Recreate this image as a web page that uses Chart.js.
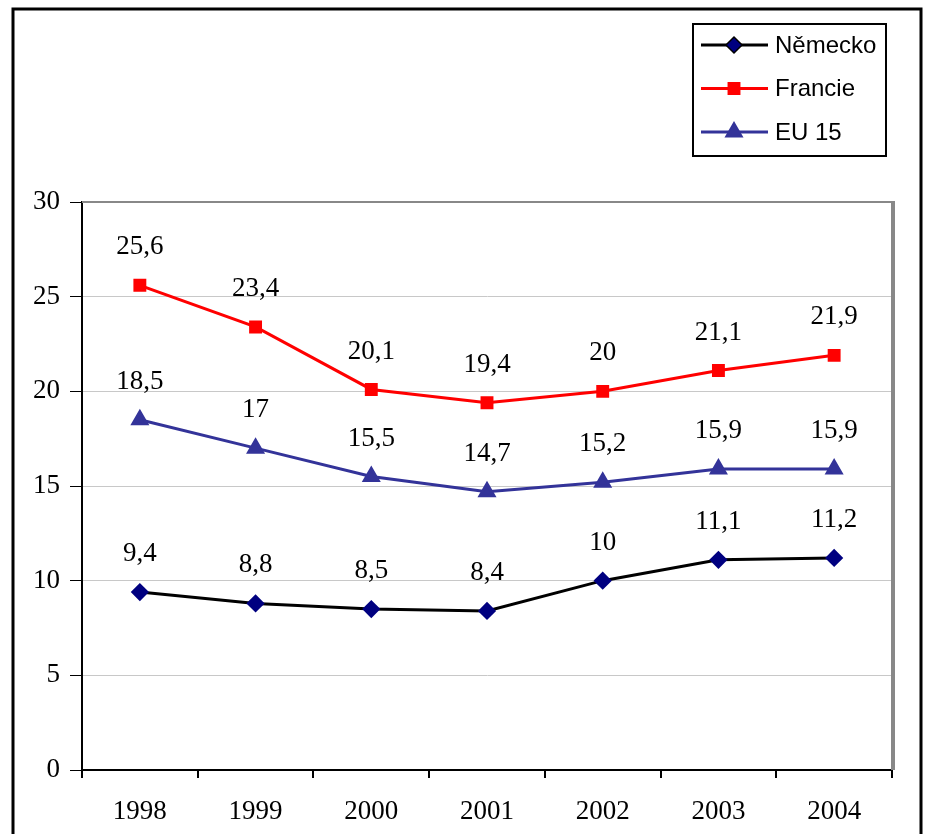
<!DOCTYPE html>
<html>
<head>
<meta charset="utf-8">
<script src="https://cdn.jsdelivr.net/npm/chart.js@4"></script>
<style>
  html, body { margin: 0; padding: 0; background: #fff; }
  #wrap { width: 936px; height: 834px; position: relative; }
</style>
</head>
<body>
<div id="wrap"><canvas id="chart" width="936" height="834"></canvas></div>
<script>
// Data
const years = ['1998', '1999', '2000', '2001', '2002', '2003', '2004'];
const nemecko = [9.4, 8.8, 8.5, 8.4, 10, 11.1, 11.2];
const francie = [25.6, 23.4, 20.1, 19.4, 20, 21.1, 21.9];
const eu15 = [18.5, 17, 15.5, 14.7, 15.2, 15.9, 15.9];

const serif = '"Liberation Serif", "Times New Roman", serif';
const sans = '"Liberation Sans", Arial, sans-serif';

// outer frame + plot border
const framePlugin = {
    id: 'frame',
    beforeDraw(chart) {
        const ctx = chart.ctx;
        ctx.save();
        ctx.strokeStyle = '#000';
        ctx.lineWidth = 3;
        ctx.beginPath();
        ctx.moveTo(13, 840);
        ctx.lineTo(13, 9);
        ctx.lineTo(921, 9);
        ctx.lineTo(921, 840);
        ctx.stroke();
        ctx.restore();
    },
    afterDatasetsDraw(chart) {
        const a = chart.chartArea;
        const ctx = chart.ctx;
        ctx.save();
        ctx.strokeStyle = '#888';
        ctx.lineWidth = 2;
        ctx.beginPath();
        ctx.moveTo(a.left, a.top);
        ctx.lineTo(a.right, a.top);
        ctx.stroke();
        ctx.lineWidth = 4;
        ctx.beginPath();
        ctx.moveTo(a.right + 1, a.top - 1);
        ctx.lineTo(a.right + 1, a.bottom);
        ctx.stroke();
        ctx.restore();
    }
};

// value labels above points
const labelPlugin = {
    id: 'valueLabels',
    afterDatasetsDraw(chart) {
        const ctx = chart.ctx;
        ctx.save();
        ctx.font = '27px ' + serif;
        ctx.fillStyle = '#000';
        ctx.textAlign = 'center';
        ctx.textBaseline = 'middle';
        chart.data.datasets.forEach((ds, i) => {
            chart.getDatasetMeta(i).data.forEach((pt, j) => {
                const txt = String(ds.data[j]).replace('.', ',');
                ctx.fillText(txt, pt.x, pt.y - 38);
            });
        });
        ctx.restore();
    }
};

// boxed legend in the top right corner
const legendPlugin = {
    id: 'boxLegend',
    afterDraw(chart) {
        const ctx = chart.ctx;
        const x0 = 693, y0 = 24, w = 193, h = 132;
        ctx.save();
        ctx.fillStyle = '#fff';
        ctx.fillRect(x0, y0, w, h);
        ctx.strokeStyle = '#000';
        ctx.lineWidth = 2;
        ctx.strokeRect(x0, y0, w, h);
        chart.data.datasets.forEach((ds, i) => {
            const y = 45 + i * 43.5;
            ctx.strokeStyle = ds.borderColor;
            ctx.lineWidth = 3;
            ctx.beginPath();
            ctx.moveTo(701, y);
            ctx.lineTo(768, y);
            ctx.stroke();
            Chart.helpers.drawPoint(ctx, {
                pointStyle: ds.pointStyle,
                radius: ds.pointRadius,
                borderWidth: 1
            }, 734, y);
            ctx.fillStyle = ds.pointBackgroundColor;
            ctx.strokeStyle = ds.pointBorderColor;
            ctx.fill();
            ctx.fillStyle = '#000';
            ctx.font = '24px ' + sans;
            ctx.textAlign = 'left';
            ctx.textBaseline = 'middle';
            ctx.fillText(ds.label, 775, y + 1);
        });
        ctx.restore();
    }
};

new Chart(document.getElementById('chart'), {
    type: 'line',
    data: {
        labels: years,
        datasets: [{
            label: 'Německo',
            data: nemecko,
            borderColor: '#000000',
            borderWidth: 3,
            pointStyle: 'rectRot',
            pointRadius: 7,
            pointBackgroundColor: '#000080',
            pointBorderColor: '#000080',
            tension: 0
        }, {
            label: 'Francie',
            data: francie,
            borderColor: '#ff0000',
            borderWidth: 3,
            pointStyle: 'rect',
            pointRadius: 7,
            pointBackgroundColor: '#ff0000',
            pointBorderColor: '#ff0000',
            tension: 0
        }, {
            label: 'EU 15',
            data: eu15,
            borderColor: '#333399',
            borderWidth: 3,
            pointStyle: 'triangle',
            pointRadius: 8,
            pointBackgroundColor: '#333399',
            pointBorderColor: '#333399',
            tension: 0
        }]
    },
    options: {
        responsive: false,
        animation: false,
        layout: {
            padding: { top: 202, right: 44, left: 0, bottom: 0 }
        },
        plugins: {
            legend: { display: false },
            tooltip: { enabled: false }
        },
        scales: {
            x: {
                offset: true,
                grid: {
                    offset: true,
                    drawOnChartArea: false,
                    color: '#000',
                    tickColor: '#000',
                    tickLength: 8,
                    lineWidth: 2
                },
                border: { color: '#000', width: 2 },
                ticks: {
                    color: '#000',
                    font: { family: serif, size: 27 },
                    padding: 18
                },
                afterFit(scale) { scale.height = 64; }
            },
            y: {
                min: 0,
                max: 30,
                ticks: {
                    stepSize: 5,
                    color: '#000',
                    font: { family: serif, size: 27 },
                    padding: 10
                },
                grid: {
                    color: '#c8c8c8',
                    lineWidth: 1,
                    tickColor: '#000',
                    tickLength: 12
                },
                border: { color: '#000', width: 2 },
                afterFit(scale) { scale.width = 82; }
            }
        }
    },
    plugins: [framePlugin, labelPlugin, legendPlugin]
});
</script>
</body>
</html>
